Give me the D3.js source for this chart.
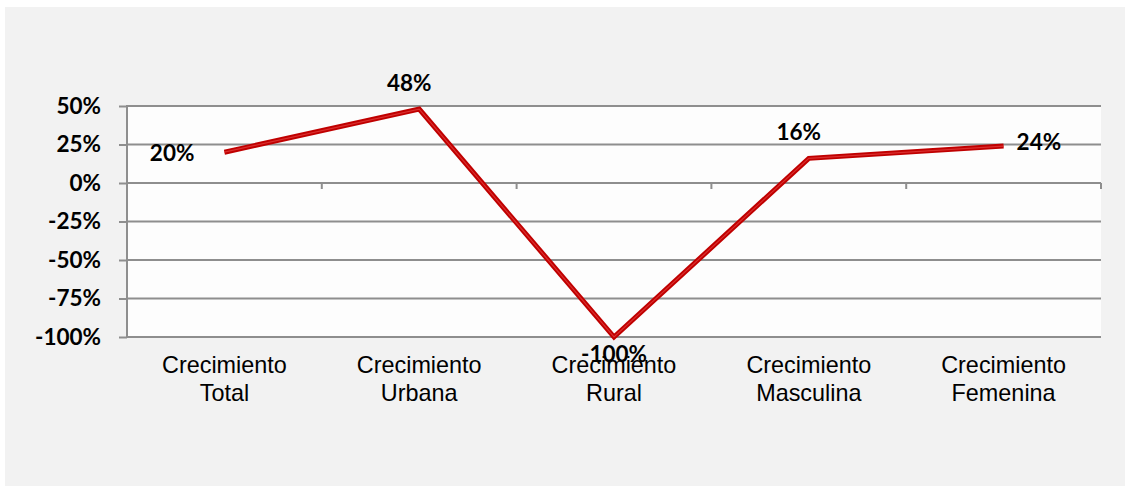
<!DOCTYPE html>
<html>
<head>
<meta charset="utf-8">
<script src="https://cdn.jsdelivr.net/npm/d3@7"></script>
<style>
  html, body { margin: 0; padding: 0; background: #ffffff; }
  svg { display: block; }
</style>
</head>
<body>
<svg id="chart" width="1125" height="486"></svg>
<script>
// Growth rates by segment (percent)
const categories = [
  ["Crecimiento", "Total"],
  ["Crecimiento", "Urbana"],
  ["Crecimiento", "Rural"],
  ["Crecimiento", "Masculina"],
  ["Crecimiento", "Femenina"]
];
const growth = [20, 48, -100, 16, 24];
const yTicks = [50, 25, 0, -25, -50, -75, -100];
// where each value label sits relative to its point
const labelPlacement = ["left", "above", "below", "above", "right"];

const svg = d3.select("#chart");
const W = 1125, H = 486;
const plot = { left: 127, right: 1101, top: 106, bottom: 337 };

// outer chart background
svg.append("rect")
  .attr("x", 5).attr("y", 7)
  .attr("width", W - 5).attr("height", H - 7)
  .attr("fill", "#f2f2f2");

// plot area
svg.append("rect")
  .attr("x", plot.left).attr("y", plot.top)
  .attr("width", plot.right - plot.left).attr("height", plot.bottom - plot.top)
  .attr("fill", "#fdfdfd");

const x = d3.scaleBand()
  .domain(d3.range(categories.length))
  .range([plot.left, plot.right])
  .paddingInner(0).paddingOuter(0);

const y = d3.scaleLinear()
  .domain([-100, 50])
  .range([plot.bottom, plot.top]);

const gridColor = "#8e8e8e";

// horizontal gridlines
svg.append("g")
  .selectAll("line")
  .data(yTicks)
  .join("line")
  .attr("x1", plot.left).attr("x2", plot.right)
  .attr("y1", d => y(d)).attr("y2", d => y(d))
  .attr("stroke", gridColor)
  .attr("stroke-width", 2);

// y axis with tick labels
const yAxis = d3.axisLeft(y)
  .tickValues(yTicks)
  .tickSize(8)
  .tickPadding(18)
  .tickFormat(d => d + "%");

const gy = svg.append("g")
  .attr("transform", `translate(${plot.left},0)`)
  .call(yAxis);
gy.select(".domain")
  .attr("stroke", gridColor).attr("stroke-width", 2)
  .attr("d", `M0,${plot.top - 1}V${plot.bottom + 1}`);
gy.selectAll(".tick line").attr("stroke", gridColor).attr("stroke-width", 2);
gy.selectAll(".tick text")
  .attr("fill", "#000")
  .attr("dx", 0)
  .style("font-family", "Lato, 'Open Sans', sans-serif")
  .style("font-weight", "bold")
  .style("font-size", "22.5px");

// category boundary ticks on the zero line
const boundaries = d3.range(categories.length + 1).map(i =>
  i < categories.length ? x(i) : x(categories.length - 1) + x.bandwidth());
svg.append("g")
  .selectAll("line")
  .data(boundaries)
  .join("line")
  .attr("x1", d => d).attr("x2", d => d)
  .attr("y1", y(0)).attr("y2", y(0) + 6)
  .attr("stroke", gridColor)
  .attr("stroke-width", 2);

// category labels (two lines each)
const catG = svg.append("g")
  .selectAll("text")
  .data(categories)
  .join("text")
  .attr("x", (d, i) => x(i) + x.bandwidth() / 2)
  .attr("y", 373)
  .attr("text-anchor", "middle")
  .attr("fill", "#000")
  .style("font-family", "'Liberation Sans', Arial, sans-serif")
  .style("font-size", "23.4px");
catG.selectAll("tspan")
  .data(d => d)
  .join("tspan")
  .attr("x", function () { return d3.select(this.parentNode).attr("x"); })
  .attr("dy", (d, j) => j === 0 ? 0 : 28)
  .text(d => d);

// series line
const line = d3.line()
  .x((d, i) => x(i) + x.bandwidth() / 2)
  .y(d => y(d));

svg.append("path")
  .datum(growth)
  .attr("d", line)
  .attr("fill", "none")
  .attr("stroke", "#c00000")
  .attr("stroke-width", 5)
  .attr("stroke-linejoin", "miter");
svg.append("path")
  .datum(growth)
  .attr("d", line)
  .attr("fill", "none")
  .attr("stroke", "#e03a3a")
  .attr("stroke-width", 1.2)
  .attr("stroke-opacity", 0.8);

// value labels
const offsets = {
  left:  { dx: -30, dy: 9, anchor: "end" },
  above: { dx: -10, dy: -18, anchor: "middle" },
  below: { dx: 0, dy: 25, anchor: "middle" },
  right: { dx: 13, dy: 4, anchor: "start" }
};
svg.append("g")
  .selectAll("text")
  .data(growth)
  .join("text")
  .attr("x", (d, i) => x(i) + x.bandwidth() / 2 + offsets[labelPlacement[i]].dx)
  .attr("y", (d, i) => y(d) + offsets[labelPlacement[i]].dy)
  .attr("text-anchor", (d, i) => offsets[labelPlacement[i]].anchor)
  .attr("fill", "#000")
  .style("font-family", "Lato, 'Open Sans', sans-serif")
  .style("font-weight", "bold")
  .style("font-size", "22.5px")
  .text(d => d + "%");
</script>
</body>
</html>
